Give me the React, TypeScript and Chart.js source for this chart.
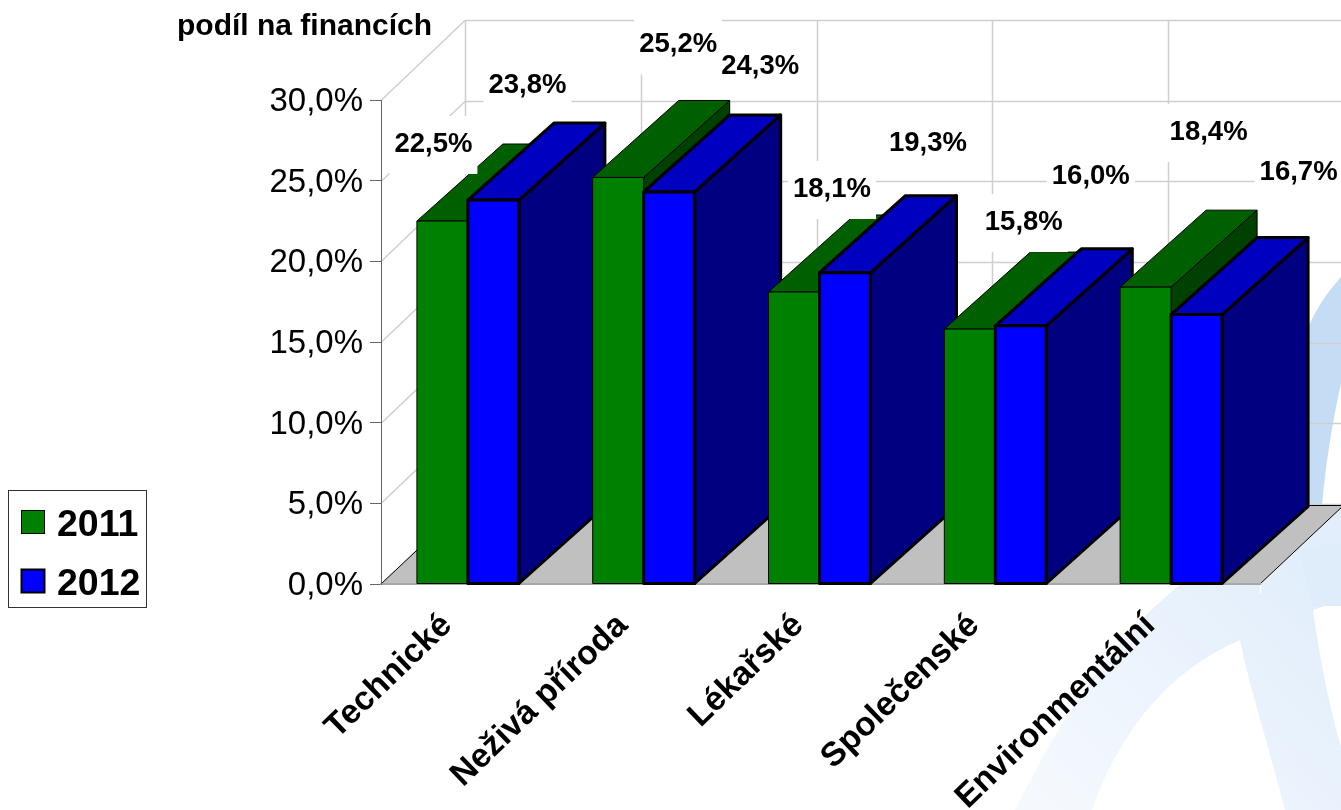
import React, { useEffect, useRef } from "react";
import { Chart, registerables } from "chart.js";

Chart.register(...registerables);

const categories = ["Technické", "Neživá příroda", "Lékařské", "Společenské", "Environmentální"];
const values2011 = [22.5, 25.2, 18.1, 15.8, 18.4];
const values2012 = [23.8, 24.3, 19.3, 16.0, 16.7];
const yTicks = [0, 5, 10, 15, 20, 25, 30];
const axisTitle = "podíl na financích";
const FONT = '"Liberation Sans", Arial, sans-serif';

// hand-placed label offsets (from the front top centre of each bar), as in the original
const labelOffsets2011 = [[-9, -77], [60, -133], [38, -103], [54, -107], [63, -155]];
const labelOffsets2012 = [[34, -115], [91, -126], [83, -129], [70, -149], [102, -142]];

const DEPTH_X = 86, DEPTH_Y = -77, WALL_X = 84, WALL_Y = -80, SHIFT = -1;
const faces = [
  { front: "#008000", top: "#006000", side: "#004000", line: 1 },
  { front: "#0000ff", top: "#0000c0", side: "#000080", line: 3 },
];

const fmt = (v: number) => v.toFixed(1).replace(".", ",") + "%";

function poly(ctx: CanvasRenderingContext2D, pts: number[][], fill: string | null, stroke?: string, lw = 1) {
  ctx.beginPath();
  pts.forEach((p, i) => (i ? ctx.lineTo(p[0], p[1]) : ctx.moveTo(p[0], p[1])));
  ctx.closePath();
  if (fill) { ctx.fillStyle = fill; ctx.fill(); }
  if (stroke) { ctx.strokeStyle = stroke; ctx.lineWidth = lw; ctx.stroke(); }
}

function drawWatermark(ctx: CanvasRenderingContext2D) {
  ctx.save();
  const blob = (color: any, f: () => void) => { ctx.beginPath(); f(); ctx.closePath(); ctx.fillStyle = color; ctx.fill(); };
  const soft = ctx.createLinearGradient(1040, 810, 1300, 560);
  soft.addColorStop(0, "#f5f9fe");
  soft.addColorStop(1, "#e2eefb");
  // lower sweeping arc
  blob(soft, () => {
    ctx.moveTo(1015, 810);
    ctx.bezierCurveTo(1060, 720, 1110, 640, 1180, 585);
    ctx.lineTo(1341, 505); ctx.lineTo(1341, 747);
    ctx.lineTo(1341, 810);
    ctx.lineTo(1285, 810);
    ctx.bezierCurveTo(1270, 750, 1250, 690, 1240, 640);
    ctx.bezierCurveTo(1170, 670, 1120, 730, 1092, 810);
  });
  // white notch to the right of the leg
  blob("#ffffff", () => {
    ctx.moveTo(1313, 610);
    ctx.bezierCurveTo(1320, 660, 1330, 710, 1341, 747);
    ctx.lineTo(1341, 600);
  });
  // horizontal band
  blob("#dfecfa", () => {
    ctx.moveTo(1300, 552);
    ctx.bezierCurveTo(1315, 545, 1330, 542, 1341, 545);
    ctx.lineTo(1341, 606);
    ctx.lineTo(1312, 606);
  });
  // upper band
  blob("#c4ddf5", () => {
    ctx.moveTo(1341, 277);
    ctx.bezierCurveTo(1325, 295, 1315, 310, 1305, 335);
    ctx.lineTo(1305, 506);
    ctx.lineTo(1322, 506);
    ctx.bezierCurveTo(1326, 460, 1333, 420, 1341, 383);
  });
  ctx.restore();
}

const scene3d = {
  id: "scene3d",
  beforeDraw(chart: any) {
    const { ctx, scales, chartArea: a } = chart;
    ctx.save();
    ctx.fillStyle = "#ffffff";
    ctx.fillRect(0, 0, chart.width, chart.height);
    drawWatermark(ctx);
    const y = scales.y;
    const step = (a.right - a.left) / categories.length;
    ctx.strokeStyle = "#cfcfcf";
    ctx.lineWidth = 1.5;
    ctx.beginPath();
    yTicks.forEach((t) => {
      const py = Math.round(y.getPixelForValue(t)) + 0.5;
      ctx.moveTo(a.left, py);
      ctx.lineTo(a.left + WALL_X, py + WALL_Y);
      ctx.lineTo(a.right + WALL_X, py + WALL_Y);
    });
    for (let i = 0; i <= categories.length; i++) {
      const px = Math.round(a.left + i * step + WALL_X) + 0.5;
      ctx.moveTo(px, a.top + WALL_Y);
      ctx.lineTo(px, a.bottom + WALL_Y);
    }
    ctx.stroke();
    // floor
    poly(ctx, [
      [a.left, a.bottom], [a.left + WALL_X, a.bottom + WALL_Y + 1],
      [a.right + WALL_X, a.bottom + WALL_Y + 1], [a.right, a.bottom],
    ], "#c0c0c0");
    ctx.strokeStyle = "#000000";
    ctx.lineWidth = 1;
    ctx.beginPath();
    ctx.moveTo(a.left, a.bottom); ctx.lineTo(a.left + WALL_X, a.bottom + WALL_Y + 1);
    ctx.moveTo(a.right, a.bottom); ctx.lineTo(a.right + WALL_X, a.bottom + WALL_Y + 1);
    ctx.moveTo(a.left + WALL_X, a.bottom + WALL_Y + 1.5); ctx.lineTo(a.right + WALL_X, a.bottom + WALL_Y + 1.5);
    ctx.stroke();
    ctx.restore();
  },
  beforeDatasetsDraw(chart: any) {
    const { ctx } = chart;
    ctx.save();
    ctx.lineJoin = "round";
    categories.forEach((_, i) => {
      chart.data.datasets.forEach((_d: any, di: number) => {
        const el = chart.getDatasetMeta(di).data[i];
        const f = faces[di];
        const l = el.x - el.width / 2 + SHIFT, r = el.x + el.width / 2 + SHIFT;
        const t = el.y, b = el.base;
        poly(ctx, [[r, t], [r + DEPTH_X, t + DEPTH_Y], [r + DEPTH_X, b + DEPTH_Y], [r, b]], f.side, "#000", f.line);
        poly(ctx, [[l, t], [l + DEPTH_X, t + DEPTH_Y], [r + DEPTH_X, t + DEPTH_Y], [r, t]], f.top, "#000", f.line);
        poly(ctx, [[l, t], [r, t], [r, b], [l, b]], f.front, "#000", f.line);
      });
    });
    ctx.restore();
    return false;
  },
  afterDraw(chart: any) {
    const { ctx } = chart;
    ctx.save();
    ctx.font = `bold 27.5px ${FONT}`;
    ctx.textAlign = "center";
    ctx.textBaseline = "middle";
    chart.data.datasets.forEach((d: any, di: number) => {
      const off = di === 0 ? labelOffsets2011 : labelOffsets2012;
      d.data.forEach((v: number, i: number) => {
        const el = chart.getDatasetMeta(di).data[i];
        const cx = el.x + SHIFT + off[i][0], cy = el.y + off[i][1];
        const s = fmt(v);
        const w = ctx.measureText(s).width;
        ctx.fillStyle = "#ffffff";
        ctx.fillRect(cx - w / 2 - 5, cy - 28, w + 10, 58);
      });
    });
    chart.data.datasets.forEach((d: any, di: number) => {
      const off = di === 0 ? labelOffsets2011 : labelOffsets2012;
      d.data.forEach((v: number, i: number) => {
        const el = chart.getDatasetMeta(di).data[i];
        ctx.fillStyle = "#000000";
        ctx.fillText(fmt(v), el.x + SHIFT + off[i][0], el.y + off[i][1]);
      });
    });
    // axis caption
    ctx.fillStyle = "#000000";
    ctx.font = `bold 30px ${FONT}`;
    ctx.textAlign = "left";
    ctx.fillText(axisTitle, 177, 27);
    // legend
    ctx.strokeStyle = "#333333";
    ctx.lineWidth = 1;
    ctx.fillStyle = "#ffffff";
    ctx.fillRect(8.5, 490.5, 138, 117);
    ctx.strokeRect(8.5, 490.5, 138, 117);
    ctx.font = `bold 37.5px ${FONT}`;
    ctx.textBaseline = "alphabetic";
    chart.data.datasets.forEach((d: any, di: number) => {
      const top = 510.5 + di * 59;
      ctx.fillStyle = d.backgroundColor;
      ctx.fillRect(21.5, top, 23, 23);
      ctx.strokeStyle = "#000000";
      ctx.lineWidth = faces[di].line === 1 ? 1 : 2;
      ctx.strokeRect(21.5, top, 23, 23);
      ctx.fillStyle = "#000000";
      ctx.fillText(d.label, 57, 536 + di * 59);
    });
    ctx.restore();
  },
};

export default function App() {
  const ref = useRef<HTMLCanvasElement>(null);
  useEffect(() => {
    const chart = new Chart(ref.current as HTMLCanvasElement, {
      type: "bar",
      data: {
        labels: categories,
        datasets: [
          { label: "2011", data: values2011, backgroundColor: faces[0].front, categoryPercentage: 0.58, barPercentage: 1 },
          { label: "2012", data: values2012, backgroundColor: faces[1].front, categoryPercentage: 0.58, barPercentage: 1 },
        ],
      },
      options: {
        responsive: false,
        animation: false,
        devicePixelRatio: 1,
        layout: { autoPadding: false, padding: { top: 100, right: 81, left: 0, bottom: 0 } },
        plugins: { legend: { display: false }, tooltip: { enabled: false }, title: { display: false } },
        scales: {
          x: {
            afterFit: (s: any) => { s.height = 226; },
            grid: { drawOnChartArea: false, color: "#ffffff", tickLength: 10 },
            border: { color: "#a8a8a8", width: 2 },
            ticks: {
              autoSkip: false,
              minRotation: 44,
              maxRotation: 44,
              labelOffset: -22,
              padding: 12,
              color: "#000000",
              font: { family: FONT, size: 33.5, weight: "bold" },
            },
          },
          y: {
            min: 0,
            max: 30,
            afterFit: (s: any) => { s.width = 381; },
            grid: { drawOnChartArea: false, color: "#666666", tickLength: 11 },
            border: { color: "#666666", width: 1 },
            ticks: {
              stepSize: 5,
              padding: 7,
              labelOffset: 2,
              color: "#000000",
              font: { family: FONT, size: 33 },
              callback: (v: any) => fmt(Number(v)),
            },
          },
        },
      } as any,
      plugins: [scene3d as any],
    });
    return () => chart.destroy();
  }, []);
  return (
    <div style={{ position: "fixed", left: 0, top: 0, width: 1341, height: 810, background: "#fff" }}>
      <canvas ref={ref} width={1341} height={810} style={{ display: "block" }} />
    </div>
  );
}
